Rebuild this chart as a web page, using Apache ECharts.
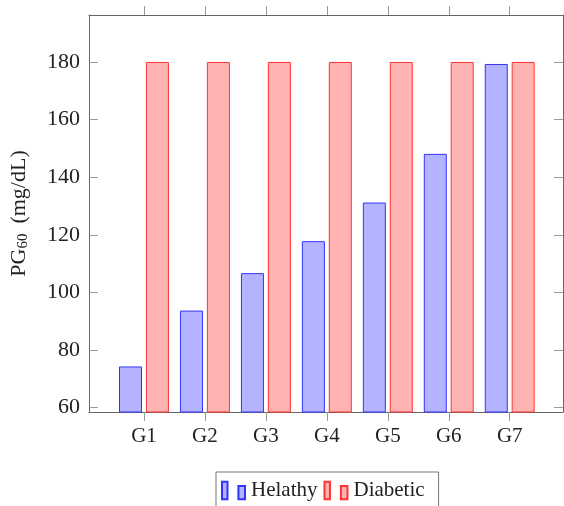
<!DOCTYPE html>
<html>
<head>
<meta charset="utf-8">
<script src="https://cdn.jsdelivr.net/npm/echarts@6/dist/echarts.min.js"></script>
<style>html,body{margin:0;padding:0;background:#fff}#c{width:564px;height:506px}</style>
</head>
<body>
<div id="c"></div>
<script>
const categories = ['G1','G2','G3','G4','G5','G6','G7'];
const healthy = [74.3, 93.7, 106.7, 117.8, 131.2, 148.1, 179.3];
const diabetic = [180, 180, 180, 180, 180, 180, 180];
const yTicks = [60, 80, 100, 120, 140, 160, 180];
const xTicks = [0, 1, 2, 3, 4, 5, 6];

const FONT = '"Liberation Serif", "DejaVu Serif", serif';
const AX = '#666';
const chart = echarts.init(document.getElementById('c'), null, {renderer: 'canvas'});

const xBase = {
  type: 'value', min: -0.9016, max: 6.874,
  splitLine: {show: false},
  axisLine: {show: true, onZero: false, lineStyle: {color: AX, width: 1}},
  axisTick: {show: true, inside: false, length: 9, customValues: xTicks, lineStyle: {color: '#999'}},
};
const yBase = {
  type: 'value', min: 58.5, max: 196.3,
  splitLine: {show: false},
  axisLine: {show: true, onZero: false, lineStyle: {color: AX, width: 1}},
  axisTick: {show: true, inside: true, length: 9, customValues: yTicks, lineStyle: {color: '#999'}},
};

chart.setOption({
  animation: false,
  grid: {left: 89, right: 1, top: 15, bottom: 94, containLabel: false},
  xAxis: [
    Object.assign({}, xBase, {
      position: 'bottom',
      axisLabel: {show: true, margin: 14, customValues: xTicks, fontFamily: FONT, fontSize: 21, color: '#222',
        formatter: v => categories[Math.round(v)]}
    }),
    Object.assign({}, xBase, {position: 'top', axisLabel: {show: false}})
  ],
  yAxis: [
    Object.assign({}, yBase, {
      position: 'left',
      name: '{a|PG}{b|60}{c|(mg/dL)}',
      nameLocation: 'middle', nameGap: 58, nameRotate: 90,
      nameTextStyle: {
        fontFamily: FONT, color: '#222',
        rich: {
          a: {fontFamily: FONT, fontSize: 22, color: '#222', lineHeight: 24},
          b: {fontFamily: FONT, fontSize: 15, color: '#222', lineHeight: 24, verticalAlign: 'bottom', padding: [8, 0, 0, 0]},
          c: {fontFamily: FONT, fontSize: 22, color: '#222', lineHeight: 24, padding: [0, 0, 0, 10]}
        }
      },
      axisLabel: {show: true, margin: 9, customValues: yTicks, fontFamily: FONT, fontSize: 22, color: '#222'}
    }),
    Object.assign({}, yBase, {position: 'right', axisLabel: {show: false}})
  ],
  legend: {
    show: true, left: 216, top: 472,
    orient: 'horizontal',
    padding: [8, 14, 12, 5],
    borderColor: '#777', borderWidth: 1, borderRadius: 0,
    itemWidth: 23, itemHeight: 18, itemGap: 6,
    textStyle: {fontFamily: FONT, fontSize: 21, color: '#222', padding: [0, 0, 0, 1]},
    data: [
      {name: 'Helathy', icon: 'path://M0,0h5v16h-5z M15,4h6v12h-6z'},
      {name: 'Diabetic', icon: 'path://M0,0h5v16h-5z M15,4h6v12h-6z'}
    ]
  },
  series: [
    {
      name: 'Helathy', type: 'bar', xAxisIndex: 0, yAxisIndex: 0,
      barWidth: 23, barGap: '17%',
      data: healthy.map((v, i) => [i, v]),
      itemStyle: {color: '#b3b3ff', borderColor: '#3333ff', borderWidth: 1}
    },
    {
      name: 'Diabetic', type: 'bar', xAxisIndex: 0, yAxisIndex: 0,
      barWidth: 23, barGap: '17%',
      data: diabetic.map((v, i) => [i, v]),
      itemStyle: {color: '#ffb3b3', borderColor: '#ff3333', borderWidth: 1}
    }
  ]
});
</script>
</body>
</html>
